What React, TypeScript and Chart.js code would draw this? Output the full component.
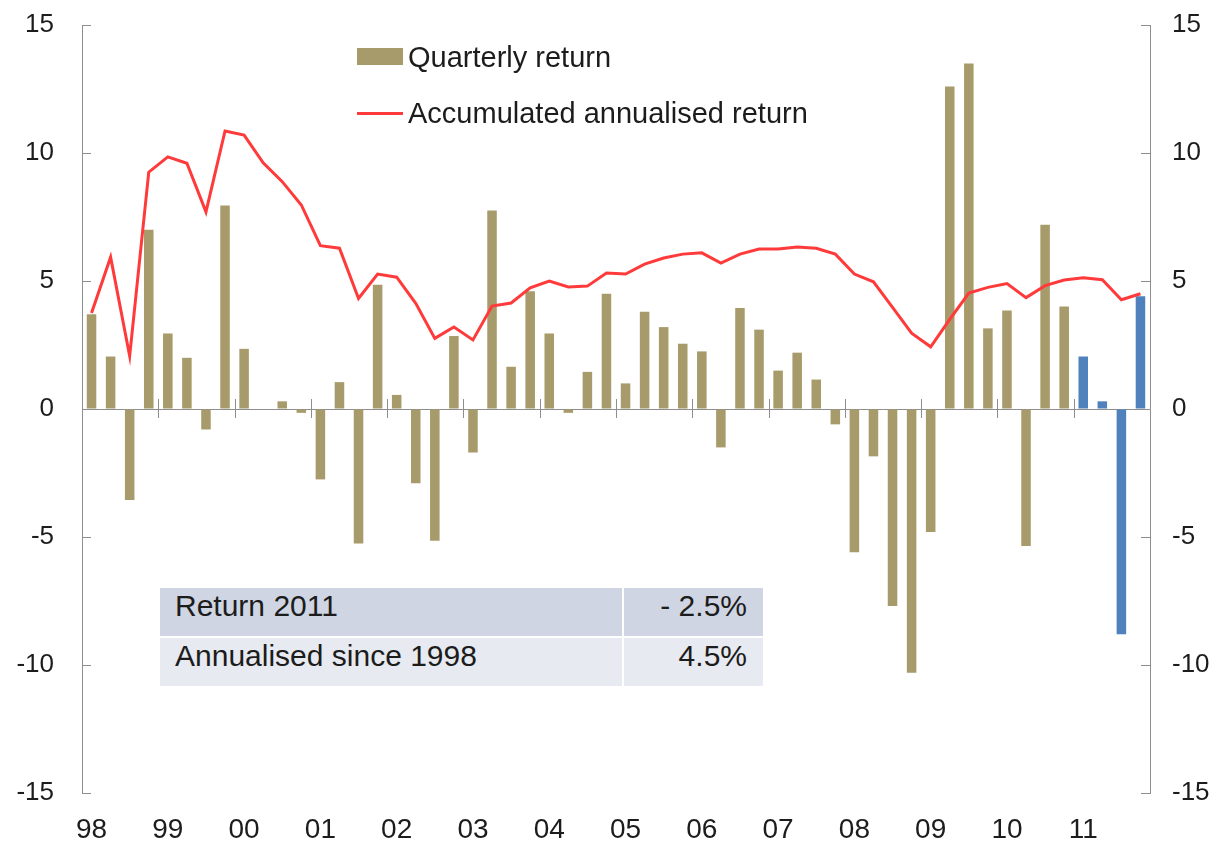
import React, { useEffect, useRef } from "react";
import { Chart, registerables } from "chart.js";

Chart.register(...registerables);

const years = ["98", "99", "00", "01", "02", "03", "04", "05", "06", "07", "08", "09", "10", "11"];
const quarters = ["Q1", "Q2", "Q3", "Q4"];

const quarterlyReturn = [
  3.7, 2.05, -3.55, 7.0,
  2.95, 2.0, -0.8, 7.95,
  2.35, 0.0, 0.3, -0.15,
  -2.75, 1.05, -5.25, 4.85,
  0.55, -2.9, -5.15, 2.85,
  -1.7, 7.75, 1.65, 4.6,
  2.95, -0.15, 1.45, 4.5,
  1.0, 3.8, 3.2, 2.55,
  2.25, -1.5, 3.95, 3.1,
  1.5, 2.2, 1.15, -0.6,
  -5.6, -1.85, -7.7, -10.3,
  -4.8, 12.6, 13.5, 3.15,
  3.85, -5.35, 7.2, 4.0,
  2.05, 0.3, -8.8, 4.4,
];

const accumulatedReturn = [
  3.75, 5.93, 2.07, 9.25,
  9.85, 9.6, 7.7, 10.86,
  10.7, 9.62, 8.88, 7.97,
  6.38, 6.28, 4.32, 5.27,
  5.15, 4.13, 2.76, 3.2,
  2.7, 4.02, 4.14, 4.73,
  5.0, 4.77, 4.8, 5.31,
  5.27, 5.66, 5.9, 6.05,
  6.1, 5.7, 6.05, 6.25,
  6.25, 6.33, 6.28, 6.05,
  5.27, 4.97, 3.97, 2.96,
  2.43, 3.5, 4.53, 4.75,
  4.9, 4.35, 4.82, 5.04,
  5.13, 5.05, 4.27, 4.5,
];

const highlightYear = "11";
const yTicks = [-15, -10, -5, 0, 5, 10, 15];
const tableRows = [
  ["Return 2011", "- 2.5%"],
  ["Annualised since 1998", "4.5%"],
];
const legendLabels = ["Quarterly return", "Accumulated annualised return"];

const TAN = "#a89b6b";
const BLUE = "#4f81bd";
const RED = "#ff3a3a";
const AXIS = "#8e8e8e";
const TEXT = "#1c1c1c";
const FONT = "'Liberation Sans', Arial, sans-serif";

const categories = years.flatMap((y) => quarters.map((q) => `${y} ${q}`));
const barColors = categories.map((c) => (c.startsWith(highlightYear + " ") ? BLUE : TAN));

const tickMarks = {
  id: "tickMarks",
  afterDatasetsDraw(chart: any) {
    const { ctx, chartArea, scales } = chart;
    const y = scales.y;
    const x = scales.x;
    ctx.save();
    ctx.strokeStyle = AXIS;
    ctx.lineWidth = 1;
    const line = (x1: number, y1: number, x2: number, y2: number) => {
      ctx.beginPath();
      ctx.moveTo(x1, y1);
      ctx.lineTo(x2, y2);
      ctx.stroke();
    };
    yTicks.forEach((v) => {
      const py = Math.round(y.getPixelForValue(v)) + 0.5;
      line(chartArea.left, py, chartArea.left + 9, py);
      line(chartArea.right - 9, py, chartArea.right, py);
    });
    const y0 = y.getPixelForValue(0);
    for (let i = 4; i < categories.length; i += 4) {
      const px = Math.round((x.getPixelForValue(i - 1) + x.getPixelForValue(i)) / 2) + 0.5;
      line(px, y0 - 10, px, y0 + 9);
    }
    ctx.restore();
  },
};

export default function App() {
  const canvasRef = useRef<HTMLCanvasElement | null>(null);

  useEffect(() => {
    document.body.style.margin = "0";
    const canvas = canvasRef.current;
    if (!canvas) return;
    const chart = new Chart(canvas, {
      type: "bar",
      data: {
        labels: categories,
        datasets: [
          {
            type: "line",
            label: legendLabels[1],
            data: accumulatedReturn,
            borderColor: RED,
            borderWidth: 3,
            pointRadius: 0,
            tension: 0,
            yAxisID: "y",
            order: 0,
          } as any,
          {
            type: "bar",
            label: legendLabels[0],
            data: quarterlyReturn,
            backgroundColor: barColors,
            barPercentage: 0.5,
            categoryPercentage: 1,
            yAxisID: "y",
            order: 1,
          },
        ],
      },
      options: {
        responsive: true,
        maintainAspectRatio: false,
        animation: false,
        layout: { padding: { top: 25, left: 0, right: 0, bottom: 0 } },
        plugins: { legend: { display: false }, tooltip: { enabled: false } },
        scales: {
          x: {
            type: "category",
            offset: true,
            grid: { display: false },
            border: { display: false },
            ticks: {
              autoSkip: false,
              maxRotation: 0,
              minRotation: 0,
              padding: 12,
              color: TEXT,
              font: { family: FONT, size: 28 },
              callback: (_v: any, i: number) => (i % 4 === 0 ? years[i / 4] : ""),
            },
            afterFit: (s: any) => {
              s.height = 50;
            },
          },
          y: {
            position: "left",
            min: -15,
            max: 15,
            ticks: {
              stepSize: 5,
              padding: 28,
              color: TEXT,
              font: { family: FONT, size: 26 },
            },
            grid: {
              drawTicks: false,
              color: (c: any) => (c.tick && c.tick.value === 0 ? AXIS : "rgba(0,0,0,0)"),
            },
            border: { display: true, color: AXIS, width: 1 },
            afterFit: (s: any) => {
              s.width = 82;
              s.paddingTop = 0;
              s.paddingBottom = 0;
            },
          },
          y2: {
            position: "right",
            min: -15,
            max: 15,
            ticks: {
              stepSize: 5,
              padding: 22,
              color: TEXT,
              font: { family: FONT, size: 26 },
            },
            grid: { display: false, drawTicks: false },
            border: { display: true, color: AXIS, width: 1 },
            afterFit: (s: any) => {
              s.width = 77;
              s.paddingTop = 0;
              s.paddingBottom = 0;
            },
          },
        },
      },
      plugins: [tickMarks],
    });
    return () => chart.destroy();
  }, []);

  const textStyle: React.CSSProperties = {
    position: "absolute",
    fontFamily: FONT,
    fontSize: 29,
    color: TEXT,
    lineHeight: "30px",
    whiteSpace: "nowrap",
  };

  return (
    <div style={{ position: "relative", width: 1227, height: 843, background: "#fff" }}>
      <canvas ref={canvasRef} />
      <div style={{ position: "absolute", left: 357, top: 48, width: 46, height: 17, background: TAN }} />
      <div style={{ ...textStyle, left: 408, top: 42 }}>{legendLabels[0]}</div>
      <div style={{ position: "absolute", left: 357, top: 112, width: 46, height: 3, background: RED }} />
      <div style={{ ...textStyle, left: 408, top: 98 }}>{legendLabels[1]}</div>
      {tableRows.map((row, r) => (
        <React.Fragment key={r}>
          <div
            style={{
              ...textStyle,
              fontSize: 30,
              left: 160,
              top: 588 + r * 50,
              width: 462,
              height: 48,
              lineHeight: "36px",
              paddingLeft: 15,
              boxSizing: "border-box",
              background: r === 0 ? "#cfd5e2" : "#e7eaf0",
            }}
          >
            {row[0]}
          </div>
          <div
            style={{
              ...textStyle,
              fontSize: 30,
              left: 624,
              top: 588 + r * 50,
              width: 139,
              height: 48,
              lineHeight: "36px",
              paddingRight: 16,
              boxSizing: "border-box",
              textAlign: "right",
              background: r === 0 ? "#cfd5e2" : "#e7eaf0",
            }}
          >
            {row[1]}
          </div>
        </React.Fragment>
      ))}
    </div>
  );
}
